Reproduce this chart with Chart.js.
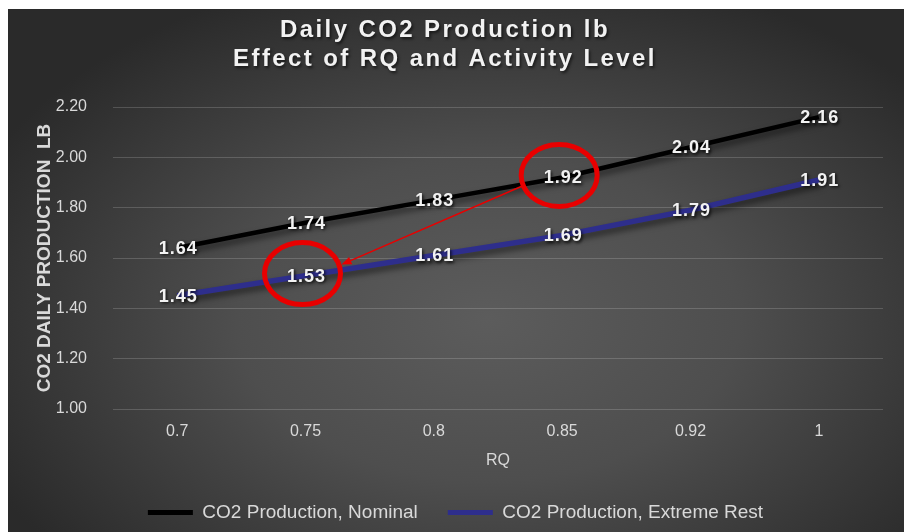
<!DOCTYPE html>
<html>
<head>
<meta charset="utf-8">
<script src="https://cdn.jsdelivr.net/npm/chart.js@4.4.1/dist/chart.umd.min.js"></script>
<style>
    html, body { margin: 0; padding: 0; background: #fff; }
    #chart_wrap { position: absolute; left: 8px; top: 9px; width: 896px; height: 523px; }
</style>
</head>
<body>
<div id="chart_wrap"><canvas id="co2_chart" width="896" height="523"></canvas></div>
<script>
const rq_labels = ['0.7', '0.75', '0.8', '0.85', '0.92', '1'];
const nominal_lb = [1.64, 1.74, 1.83, 1.92, 2.04, 2.16];
const extreme_rest_lb = [1.45, 1.53, 1.61, 1.69, 1.79, 1.91];
const series_names = ['CO2 Production, Nominal', 'CO2 Production, Extreme Rest'];
const title_lines = ['Daily CO2 Production lb', 'Effect of RQ and Activity Level'];
const y_ticks = [1.0, 1.2, 1.4, 1.6, 1.8, 2.0, 2.2];
// points circled in red: [dataset, index]; arrow goes from the 2nd to the 1st
const circled = [[1, 1], [0, 3]];

const FONT = '"Liberation Sans", Arial, sans-serif';


// BACKGROUND
const bg_plugin = {
    id: 'bg_plugin',
    beforeDraw(chart) {
        const ctx = chart.ctx;
        const w = chart.width, h = chart.height;
        const cx = 480, cy = 310, sx = 1.55;
        ctx.save();
        ctx.setTransform(sx, 0, 0, 1, cx, cy);
        const g = ctx.createRadialGradient(0, 0, 0, 0, 0, 360);
        g.addColorStop(0, '#5c5c5c');
        g.addColorStop(0.45, '#4e4e4e');
        g.addColorStop(1, '#2a2a2a');
        ctx.fillStyle = g;
        ctx.fillRect(-cx / sx, -cy, w / sx, h);
        ctx.restore();
    }
};


// TITLE (drawn by hand for the wide letter spacing)
const title_plugin = {
    id: 'title_plugin',
    afterDraw(chart) {
        const ctx = chart.ctx;
        ctx.save();
        ctx.font = 'bold 24px ' + FONT;
        ctx.letterSpacing = '2.4px';
        ctx.textAlign = 'center';
        ctx.textBaseline = 'alphabetic';
        ctx.fillStyle = '#f2f2f2';
        ctx.shadowColor = 'rgba(0,0,0,0.6)';
        ctx.shadowOffsetX = 1.5;
        ctx.shadowOffsetY = 1.5;
        ctx.shadowBlur = 3;
        ctx.fillText(title_lines[0], 437, 28);
        ctx.fillText(title_lines[1], 437, 57);
        ctx.restore();
    }
};


// LINE SHADOW
const shadow_plugin = {
    id: 'shadow_plugin',
    beforeDatasetsDraw(chart) {
        const ctx = chart.ctx;
        ctx.save();
        ctx.shadowColor = 'rgba(0,0,0,0.55)';
        ctx.shadowBlur = 6;
        ctx.shadowOffsetX = 2;
        ctx.shadowOffsetY = 4;
    },
    afterDatasetsDraw(chart) {
        chart.ctx.restore();
    }
};


// RED CIRCLES + ARROW
const mark_plugin = {
    id: 'mark_plugin',
    afterDatasetsDraw(chart) {
        const ctx = chart.ctx;
        const pts = circled.map(c => chart.getDatasetMeta(c[0]).data[c[1]]);
        ctx.save();
        ctx.strokeStyle = '#e80000';
        ctx.lineWidth = 5;
        pts.forEach(p => {
            ctx.beginPath();
            ctx.ellipse(p.x - 3, p.y - 2, 38, 31, 0, 0, Math.PI * 2);
            ctx.stroke();
        });

        const from = {x: pts[1].x - 41, y: pts[1].y + 9};
        const to = {x: pts[0].x + 36, y: pts[0].y - 11};
        const ang = Math.atan2(to.y - from.y, to.x - from.x);
        ctx.lineWidth = 1.5;
        ctx.beginPath();
        ctx.moveTo(from.x, from.y);
        ctx.lineTo(to.x - 8 * Math.cos(ang), to.y - 8 * Math.sin(ang));
        ctx.stroke();
        ctx.fillStyle = '#e80000';
        ctx.beginPath();
        ctx.moveTo(to.x, to.y);
        ctx.lineTo(to.x - 10 * Math.cos(ang) + 4 * Math.sin(ang), to.y - 10 * Math.sin(ang) - 4 * Math.cos(ang));
        ctx.lineTo(to.x - 10 * Math.cos(ang) - 4 * Math.sin(ang), to.y - 10 * Math.sin(ang) + 4 * Math.cos(ang));
        ctx.closePath();
        ctx.fill();
        ctx.restore();
    }
};


// VALUE LABELS
const label_plugin = {
    id: 'label_plugin',
    afterDatasetsDraw(chart) {
        const ctx = chart.ctx;
        ctx.save();
        ctx.font = 'bold 18px ' + FONT;
        ctx.letterSpacing = '1px';
        ctx.textAlign = 'center';
        ctx.textBaseline = 'middle';
        ctx.fillStyle = '#f2f2f2';
        ctx.shadowColor = 'rgba(0,0,0,0.75)';
        ctx.shadowOffsetX = 1.5;
        ctx.shadowOffsetY = 1.5;
        ctx.shadowBlur = 3;
        chart.data.datasets.forEach((ds, i) => {
            chart.getDatasetMeta(i).data.forEach((pt, j) => {
                ctx.fillText(ds.data[j].toFixed(2), pt.x + 1, pt.y + 1);
            });
        });
        ctx.restore();
    }
};


const ctx = document.getElementById('co2_chart');

const chart_data = {
    labels: rq_labels,
    datasets: [{
        label: series_names[0],
        data: nominal_lb,
        borderColor: '#000000',
        backgroundColor: '#000000',
        borderWidth: 4.5,
        pointRadius: 0,
        tension: 0
    }, {
        label: series_names[1],
        data: extreme_rest_lb,
        borderColor: '#2e2e8c',
        backgroundColor: '#2e2e8c',
        borderWidth: 5.5,
        pointRadius: 0,
        tension: 0
    }]
};

const config = {
    type: 'line',
    data: chart_data,
    options: {
        responsive: false,
        animation: false,
        layout: {
            padding: {left: 20, right: 21, top: 98, bottom: 0}
        },
        plugins: {
            title: {display: false},
            tooltip: {enabled: false},
            legend: {
                position: 'bottom',
                labels: {
                    color: '#d9d9d9',
                    font: {family: FONT, size: 19},
                    boxWidth: 45,
                    boxHeight: 5,
                    padding: 30,
                    generateLabels: chart => Chart.defaults.plugins.legend.labels.generateLabels(chart)
                        .map(item => ({...item, lineWidth: 0}))
                }
            }
        },
        scales: {
            x: {
                offset: true,
                grid: {display: false, drawTicks: false},
                border: {display: false},
                afterFit: axis => { axis.height = 64; },
                ticks: {
                    color: '#d9d9d9',
                    font: {family: FONT, size: 16},
                    padding: 13
                },
                title: {
                    display: true,
                    text: 'RQ',
                    color: '#d9d9d9',
                    font: {family: FONT, size: 16},
                    padding: {top: 9, bottom: 3}
                }
            },
            y: {
                min: y_ticks[0],
                max: y_ticks[y_ticks.length - 1],
                afterBuildTicks: axis => { axis.ticks = y_ticks.map(v => ({value: v})); },
                afterFit: axis => { axis.width = 85; },
                grid: {color: 'rgba(255,255,255,0.17)', lineWidth: 1, drawTicks: false},
                border: {display: false},
                ticks: {
                    color: '#d9d9d9',
                    font: {family: FONT, size: 16},
                    padding: 26,
                    callback: v => Number(v).toFixed(2)
                },
                title: {
                    display: true,
                    text: 'CO2 DAILY PRODUCTION  LB',
                    color: '#d9d9d9',
                    font: {family: FONT, size: 19, weight: 'bold'},
                    padding: {top: 5, bottom: 1}
                }
            }
        }
    },
    plugins: [bg_plugin, shadow_plugin, mark_plugin, label_plugin, title_plugin]
};

const co2_chart = new Chart(ctx, config);
</script>
</body>
</html>
